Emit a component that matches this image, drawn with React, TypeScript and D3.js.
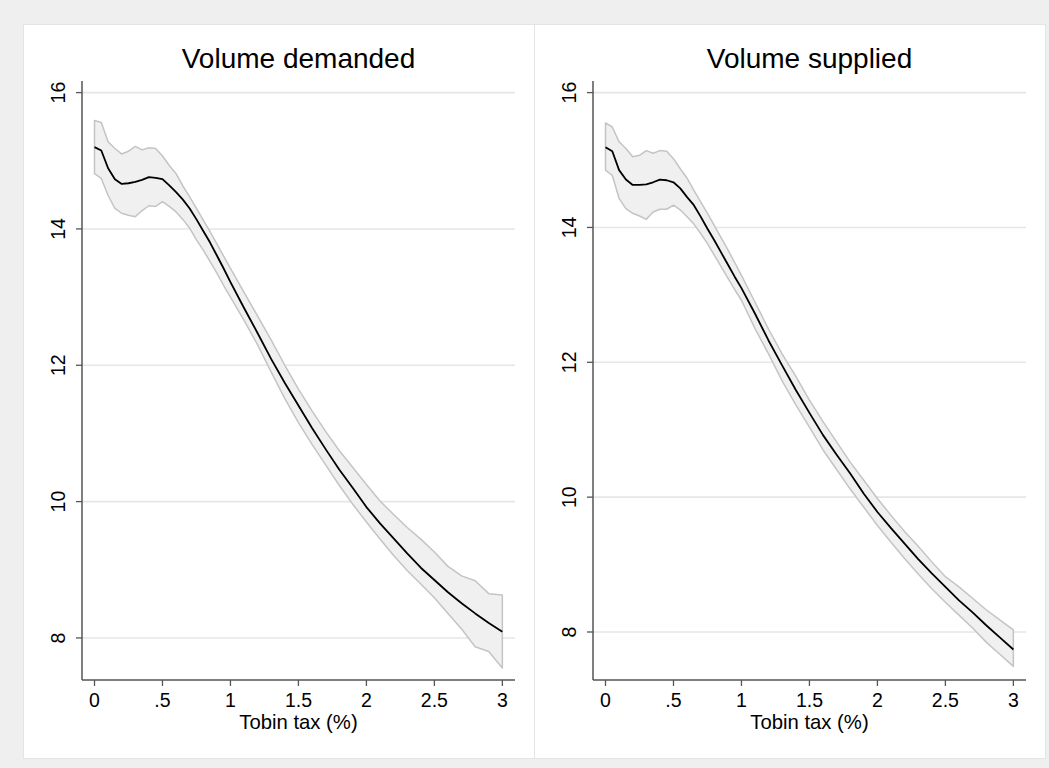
import React from "react";
import * as d3 from "d3";

// Tobin tax grid (%): fine steps up to 1, then tenths
const taxLevels = [
  0, 0.05, 0.1, 0.15, 0.2, 0.25, 0.3, 0.35, 0.4, 0.45, 0.5, 0.55, 0.6, 0.65, 0.7, 0.75, 0.8, 0.85, 0.9, 0.95, 1.0,
  1.1, 1.2, 1.3, 1.4, 1.5, 1.6, 1.7, 1.8, 1.9, 2.0, 2.1, 2.2, 2.3, 2.4, 2.5, 2.6, 2.7, 2.8, 2.9, 3.0,
];

// Volume demanded: fitted value and confidence band
const demandFit = [
  15.2, 15.15, 14.89, 14.73, 14.66, 14.67, 14.69, 14.72, 14.76, 14.75, 14.73, 14.64, 14.54, 14.43, 14.3, 14.14, 13.97, 13.8, 13.61, 13.42, 13.22,
  12.84, 12.47, 12.09, 11.74, 11.41, 11.08, 10.77, 10.47, 10.2, 9.92, 9.68, 9.46, 9.24, 9.03, 8.85, 8.67, 8.51, 8.36, 8.22, 8.09,
];
const demandUpper = [
  15.59, 15.56, 15.28, 15.18, 15.1, 15.14, 15.21, 15.16, 15.19, 15.18, 15.07, 14.93, 14.81, 14.63, 14.47, 14.3, 14.13, 13.96, 13.78, 13.6, 13.42,
  13.07, 12.72, 12.37, 12.0, 11.65, 11.33, 11.03, 10.75, 10.5, 10.25, 10.01, 9.81, 9.62, 9.45, 9.26, 9.05, 8.91, 8.84, 8.65, 8.63,
];
const demandLower = [
  14.81, 14.74, 14.49, 14.3, 14.23, 14.2, 14.18, 14.27, 14.34, 14.33, 14.4, 14.33, 14.25, 14.14, 14.01, 13.84, 13.69, 13.52, 13.35, 13.17, 13.0,
  12.66, 12.3, 11.9, 11.51, 11.16, 10.84, 10.54, 10.24, 9.96, 9.7, 9.45, 9.21, 8.99, 8.79, 8.59, 8.36, 8.13, 7.87, 7.8, 7.56,
];

// Volume supplied: fitted value and confidence band
const supplyFit = [
  15.19, 15.13, 14.85, 14.71, 14.63, 14.63, 14.64, 14.67, 14.71, 14.7, 14.67, 14.58, 14.45, 14.33, 14.16, 13.98, 13.81, 13.63, 13.45, 13.27, 13.1,
  12.72, 12.32, 11.95, 11.59, 11.25, 10.92, 10.63, 10.35, 10.05, 9.78, 9.54, 9.31, 9.08, 8.87, 8.67, 8.47, 8.29, 8.1, 7.92, 7.74,
];
const supplyUpper = [
  15.55, 15.49, 15.27, 15.17, 15.05, 15.07, 15.14, 15.1, 15.14, 15.13, 15.02, 14.87, 14.73, 14.55, 14.38, 14.21, 14.03, 13.85, 13.67, 13.48, 13.29,
  12.89, 12.49, 12.12, 11.79, 11.44, 11.12, 10.82, 10.52, 10.25, 9.98, 9.73, 9.49, 9.27, 9.04, 8.82, 8.67, 8.5, 8.33, 8.18, 8.03,
];
const supplyLower = [
  14.85, 14.77, 14.43, 14.28, 14.21, 14.17, 14.12, 14.23, 14.27, 14.27, 14.33, 14.26, 14.16, 14.05, 13.91, 13.76, 13.59, 13.42, 13.25, 13.08, 12.92,
  12.5, 12.12, 11.72, 11.37, 11.04, 10.7, 10.41, 10.12, 9.85, 9.58, 9.33, 9.09, 8.86, 8.64, 8.44, 8.25, 8.06, 7.85, 7.67, 7.49,
];

const xTicks = [0, 0.5, 1, 1.5, 2, 2.5, 3];
const xTickLabels = ["0", ".5", "1", "1.5", "2", "2.5", "3"];
const yTicks = [8, 10, 12, 14, 16];
const xTitle = "Tobin tax (%)";

const FONT = "'Liberation Sans', Arial, Helvetica, sans-serif";
const W = 1049;
const H = 768;

type PanelProps = {
  title: string;
  panelX: number;
  plotLeft: number;
  yDomain: [number, number];
  fit: number[];
  upper: number[];
  lower: number[];
};

function Panel({ title, panelX, plotLeft, yDomain, fit, upper, lower }: PanelProps) {
  const plotTop = 81;
  const plotBottom = 680;
  const plotRight = plotLeft + 433;

  const x = d3.scaleLinear().domain([-0.092, 3.093]).range([plotLeft, plotRight]);
  const y = d3.scaleLinear().domain(yDomain).range([plotBottom, plotTop]);

  const idx = d3.range(taxLevels.length);
  const band = d3
    .area<number>()
    .x((i) => x(taxLevels[i]))
    .y0((i) => y(lower[i]))
    .y1((i) => y(upper[i]));
  const line = d3
    .line<number>()
    .x((i) => x(taxLevels[i]))
    .y((i) => y(fit[i]));

  const cx = (plotLeft + plotRight) / 2;
  const axisColor = "#555555";

  return (
    <g>
      <rect x={panelX + 0.5} y={24.5} width={511} height={734} fill="#ffffff" stroke="#e4e4e4" strokeWidth={1} />
      <text x={cx} y={68} textAnchor="middle" fontFamily={FONT} fontSize={28} fill="#000">
        {title}
      </text>
      {yTicks.map((t) => (
        <line key={"g" + t} x1={plotLeft} x2={plotRight} y1={y(t)} y2={y(t)} stroke="#e6e6e6" strokeWidth={1.6} />
      ))}
      <path d={band(idx) || ""} fill="#f0f0f0" stroke="#c4c4c4" strokeWidth={1.5} strokeLinejoin="round" />
      <path d={line(idx) || ""} fill="none" stroke="#000000" strokeWidth={1.8} strokeLinejoin="round" />
      {/* axes */}
      <line x1={plotLeft} x2={plotLeft} y1={plotTop} y2={plotBottom} stroke={axisColor} strokeWidth={1.5} />
      <line x1={plotLeft} x2={plotRight} y1={plotBottom} y2={plotBottom} stroke={axisColor} strokeWidth={1.5} />
      {yTicks.map((t) => (
        <g key={"y" + t}>
          <line x1={plotLeft - 6} x2={plotLeft} y1={y(t)} y2={y(t)} stroke={axisColor} strokeWidth={1.3} />
          <text
            x={plotLeft - 16.5}
            y={y(t)}
            transform={`rotate(-90, ${plotLeft - 16.5}, ${y(t)})`}
            textAnchor="middle"
            fontFamily={FONT}
            fontSize={19.5}
            fill="#000"
          >
            {t}
          </text>
        </g>
      ))}
      {xTicks.map((t, i) => (
        <g key={"x" + t}>
          <line x1={x(t)} x2={x(t)} y1={plotBottom} y2={plotBottom + 6} stroke={axisColor} strokeWidth={1.3} />
          <text x={x(t)} y={706.5} textAnchor="middle" fontFamily={FONT} fontSize={19.5} fill="#000">
            {xTickLabels[i]}
          </text>
        </g>
      ))}
      <text x={cx} y={728.5} textAnchor="middle" fontFamily={FONT} fontSize={20.3} fill="#000">
        {xTitle}
      </text>
    </g>
  );
}

export default function App() {
  return (
    <svg
      width={W}
      height={H}
      viewBox={`0 0 ${W} ${H}`}
      style={{ position: "absolute", left: 0, top: 0, display: "block" }}
    >
      <rect x={0} y={0} width={W} height={H} fill="#efefef" />
      <Panel
        title="Volume demanded"
        panelX={23}
        plotLeft={82}
        yDomain={[7.383, 16.17]}
        fit={demandFit}
        upper={demandUpper}
        lower={demandLower}
      />
      <Panel
        title="Volume supplied"
        panelX={534}
        plotLeft={593}
        yDomain={[7.288, 16.172]}
        fit={supplyFit}
        upper={supplyUpper}
        lower={supplyLower}
      />
    </svg>
  );
}
